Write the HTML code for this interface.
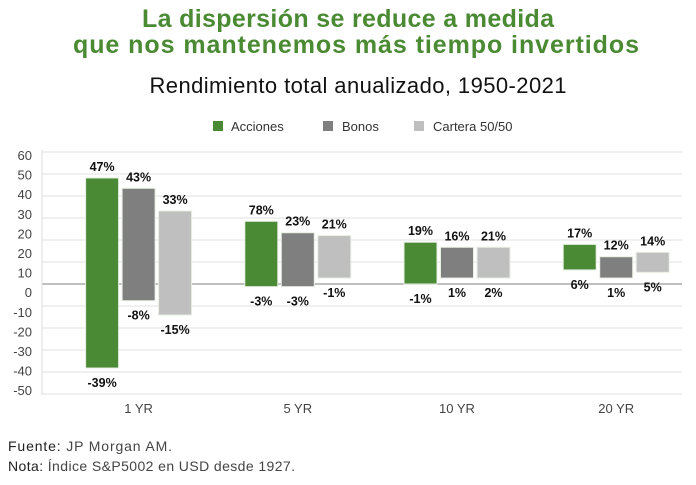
<!DOCTYPE html>
<html><head><meta charset="utf-8"><style>
body{margin:0;background:#fff;width:696px;height:480px;overflow:hidden;font-family:"Liberation Sans",sans-serif}
</style></head><body>
<svg width="696" height="480" xmlns="http://www.w3.org/2000/svg" id="svg">
<text x="348" y="27" text-anchor="middle" font-size="25" font-weight="bold" fill="#4a8a33" textLength="412">La dispersión se reduce a medida</text>
<text x="356" y="53" text-anchor="middle" font-size="25" font-weight="bold" fill="#4a8a33" textLength="566">que nos mantenemos más tiempo invertidos</text>
<text x="358" y="93" text-anchor="middle" font-size="22" fill="#111" textLength="417">Rendimiento total anualizado, 1950-2021</text>
<g font-size="13" fill="#333">
<rect x="213" y="121" width="10" height="10" fill="#4b8a34"/>
<text x="231" y="131">Acciones</text>
<rect x="323" y="121" width="10" height="10" fill="#7f7f7f"/>
<text x="342" y="131">Bonos</text>
<rect x="414" y="121" width="10" height="10" fill="#bfbfbf"/>
<text x="433" y="131">Cartera 50/50</text>
</g>
<g id="plot"></g>
<text x="8" y="451" font-size="14" fill="#222" textLength="164">Fuente: <tspan fill="#444">JP Morgan AM.</tspan></text>
<text x="8" y="471" font-size="14" fill="#222" textLength="287">Nota: <tspan fill="#444">Índice S&amp;P5002 en USD desde 1927.</tspan></text>
</svg>
<script>
const categories=["1 YR","5 YR","10 YR","20 YR"];
const accionesMax=[48.2,28.5,19,18];
const accionesMin=[-38.2,-1.2,0,6.4];
const bonosMax=[43.5,23.3,16.7,12.4];
const bonosMin=[-7.6,-1.2,2.7,2.7];
const carteraMax=[33.2,22,16.7,14.4];
const carteraMin=[-14.1,2.7,2.7,5.3];
const accionesTopLabels=["47%","78%","19%","17%"];
const accionesBotLabels=["-39%","-3%","-1%","6%"];
const bonosTopLabels=["43%","23%","16%","12%"];
const bonosBotLabels=["-8%","-3%","1%","1%"];
const carteraTopLabels=["33%","21%","21%","14%"];
const carteraBotLabels=["-15%","-1%","2%","5%"];
const tickLabels=["60","50","40","30","20","20","10","0","-10","-20","-30","-40","-50"];
const gridValues=[60,50,40,30,20,10,0,-10,-20,-30,-40,-50];

const NS="http://www.w3.org/2000/svg";
const plot=document.getElementById('plot');
const y=v=>284-v*2.2;
const bandStart=59,band=159.2,bw=33,step=36.5;
const xc=i=>bandStart+band*(i+0.5);
function mk(t,a){const e=document.createElementNS(NS,t);for(const k in a)e.setAttribute(k,a[k]);plot.appendChild(e);return e;}
gridValues.forEach(v=>{
 const l=mk('line',{x1:42,x2:682,y1:y(v),y2:y(v),stroke:v===0?'#999':'#e6e6e6','stroke-width':v===0?1.3:1.2});
 
 
});
const ax=mk('line',{x1:42,x2:42,y1:150,y2:395,stroke:'#ddd'});


tickLabels.forEach((t,i)=>{
 const e=mk('text',{x:32,y:160+i*19.6,'text-anchor':'end','font-size':13,fill:'#444'});
 e.textContent=t;
 
 
});
const series=[
 {name:'acciones',max:accionesMax,min:accionesMin,top:accionesTopLabels,bot:accionesBotLabels,fill:'#4b8a34'},
 {name:'bonos',max:bonosMax,min:bonosMin,top:bonosTopLabels,bot:bonosBotLabels,fill:'#7f7f7f'},
 {name:'cartera',max:carteraMax,min:carteraMin,top:carteraTopLabels,bot:carteraBotLabels,fill:'#bfbfbf'}];
categories.forEach((c,i)=>{
 series.forEach((s,j)=>{
  const cx=xc(i)+(j-1)*step;
  const r=mk('rect',{x:cx-bw/2,y:y(s.max[i]),width:bw,height:y(s.min[i])-y(s.max[i]),fill:s.fill,stroke:'#e8efe4','stroke-width':1});
  
  
  const tt=mk('text',{x:cx,y:y(s.max[i])-7,'text-anchor':'middle','font-size':12.5,'font-weight':'bold',fill:'#111'});
  tt.textContent=s.top[i];
  
  
  const tb=mk('text',{x:cx,y:y(s.min[i])+19,'text-anchor':'middle','font-size':12.5,'font-weight':'bold',fill:'#111'});
  tb.textContent=s.bot[i];
  
  
 });
 const cl=mk('text',{x:xc(i),y:413,'text-anchor':'middle','font-size':13,fill:'#444'});
 cl.textContent=c;
 
 
});
</script>
</body></html>
